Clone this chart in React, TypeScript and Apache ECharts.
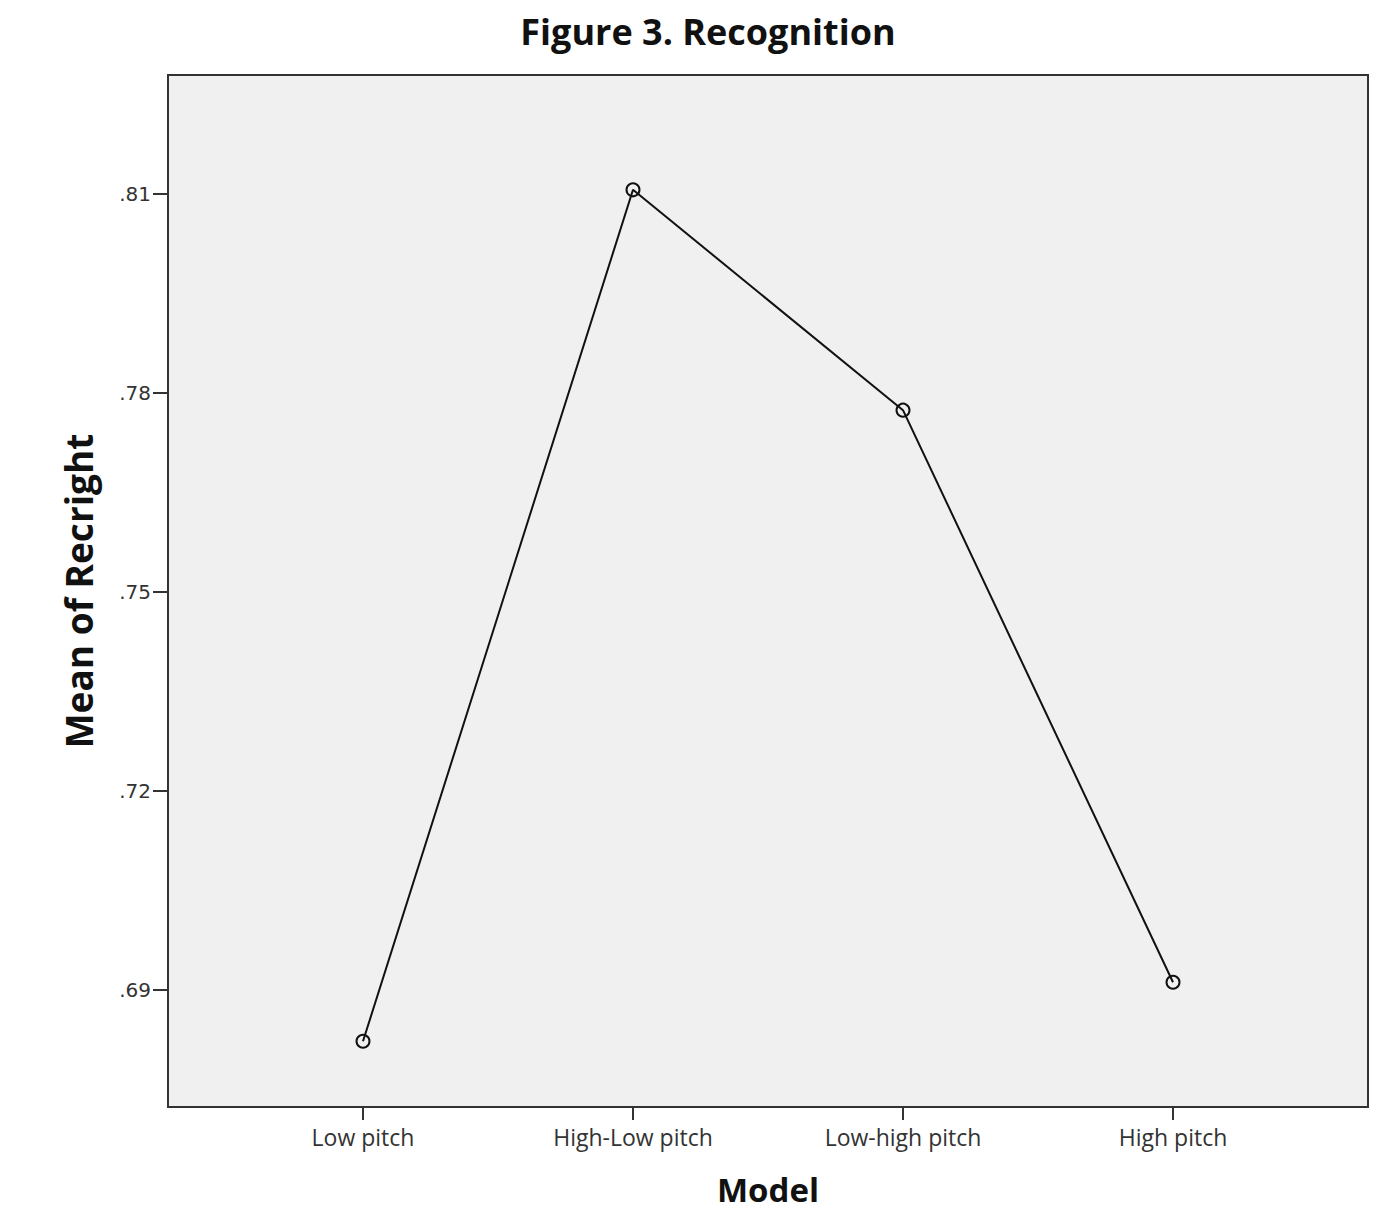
import React, { useEffect, useRef } from "react";
import * as echarts from "echarts";

const categories = ["Low pitch", "High-Low pitch", "Low-high pitch", "High pitch"];
const means = [0.6823, 0.8106, 0.7774, 0.6912];
const yTicks = [0.69, 0.72, 0.75, 0.78, 0.81];
const xTicks = [0, 1, 2, 3];

export default function App() {
  const ref = useRef<HTMLDivElement>(null);
  useEffect(() => {
    if (!ref.current) return;
    const chart = echarts.init(ref.current, null, { renderer: "svg" });
    const font = "'Open Sans', 'DejaVu Sans', sans-serif";
    chart.setOption({
      animation: false,
      backgroundColor: "#ffffff",
      title: {
        text: "Figure 3. Recognition",
        left: 703,
        textAlign: "center",
        top: 8,
        textStyle: { fontFamily: font, fontWeight: "bold", fontSize: 36, color: "#111" },
      },
      grid: {
        left: 168,
        top: 75,
        width: 1200,
        height: 1032,
        show: true,
        backgroundColor: "#f0f0f0",
        borderColor: "#333",
        borderWidth: 2,
      },
      xAxis: {
        type: "value",
        min: -0.7222,
        max: 3.7222,
        name: "Model",
        nameLocation: "middle",
        nameGap: 66,
        nameTextStyle: { fontFamily: font, fontWeight: "bold", fontSize: 33, color: "#111" },
        splitLine: { show: false },
        axisLine: { show: true, onZero: false, lineStyle: { color: "#333", width: 2 } },
        axisTick: { show: true, customValues: xTicks, length: 13, lineStyle: { color: "#333", width: 2 } },
        axisLabel: {
          customValues: xTicks,
          formatter: (v: number) => categories[Math.round(v)] ?? "",
          fontFamily: font,
          fontSize: 23,
          color: "#333",
          margin: 18,
        },
      },
      yAxis: {
        type: "value",
        min: 0.6724,
        max: 0.8279,
        name: "Mean of Recright",
        nameLocation: "middle",
        nameGap: 71,
        nameRotate: 90,
        nameTextStyle: { fontFamily: font, fontWeight: "bold", fontSize: 37, color: "#111" },
        splitLine: { show: false },
        axisLine: { show: true, onZero: false, lineStyle: { color: "#333", width: 2 } },
        axisTick: { show: true, customValues: yTicks, length: 15, lineStyle: { color: "#333", width: 2 } },
        axisLabel: {
          customValues: yTicks,
          formatter: (v: number) => v.toFixed(2).replace(/^0/, ""),
          fontFamily: "'DejaVu Sans', sans-serif",
          fontSize: 20,
          color: "#333",
          margin: 17,
        },
      },
      series: [
        {
          type: "line",
          data: means.map((m, i) => [i, m]),
          symbol: "circle",
          symbolSize: 13,
          lineStyle: { color: "#111", width: 2 },
          itemStyle: { color: "transparent", borderColor: "#111", borderWidth: 2 },
        },
      ],
    });
    return () => chart.dispose();
  }, []);
  return (
    <div
      ref={ref}
      style={{ position: "absolute", left: 0, top: 0, width: 1389, height: 1215 }}
    />
  );
}
